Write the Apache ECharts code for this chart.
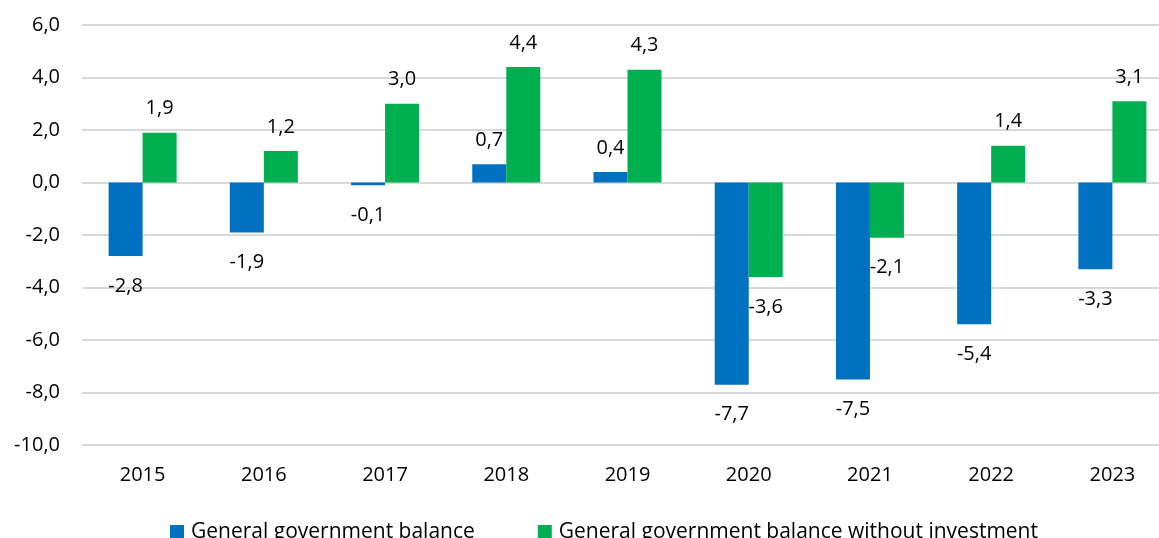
<!DOCTYPE html>
<html>
<head>
<meta charset="utf-8">
<script src="https://cdn.jsdelivr.net/npm/echarts@6/dist/echarts.min.js"></script>
<style>
  html, body { margin: 0; padding: 0; background: #fff; overflow: hidden; }
  /* plot runs a little past the right edge in the original, so the canvas is wider than the window */
  #chart { width: 1190px; height: 538px; }
</style>
</head>
<body>
<div id="chart"></div>
<script>
const years = ['2015', '2016', '2017', '2018', '2019', '2020', '2021', '2022', '2023']
const balance = [-2.8, -1.9, -0.1, 0.7, 0.4, -7.7, -7.5, -5.4, -3.3]
const balanceNoInvest = [1.9, 1.2, 3.0, 4.4, 4.3, -3.6, -2.1, 1.4, 3.1]
const seriesNames = ['General government balance', 'General government balance without investment']

const font = 'Open Sans'
const fmt = v => v.toFixed(1).replace('.', ',')

// label above positive bars, below negative ones
const withLabels = arr => arr.map(v => ({
  value: v,
  label: v < 0 ? { position: 'bottom', distance: 20 } : { position: 'top', distance: 14 }
}))

const chart = echarts.init(document.getElementById('chart'))

chart.setOption({
  animation: false,
  grid: {
    left: 82,
    top: 25,
    width: 1091,
    height: 420
  },
  legend: {
    data: seriesNames,
    left: 165,
    top: 517,
    itemWidth: 14,
    itemHeight: 15,
    itemGap: 63,
    icon: 'rect',
    textStyle: { fontFamily: font, fontSize: 21, color: '#000', padding: [0, 0, 0, 2] }
  },
  xAxis: {
    type: 'category',
    data: years,
    axisLine: { show: false },
    axisTick: { show: false },
    axisLabel: { color: '#000', fontFamily: font, fontSize: 20, margin: 20 }
  },
  yAxis: {
    type: 'value',
    min: -10,
    max: 6,
    interval: 2,
    axisLine: { show: false },
    axisTick: { show: false },
    axisLabel: {
      color: '#000',
      fontFamily: font,
      fontSize: 20,
      margin: 22,
      formatter: v => fmt(v)
    },
    splitLine: { lineStyle: { color: '#d9d9d9', width: 2 } }
  },
  series: [
    {
      name: seriesNames[0],
      type: 'bar',
      data: withLabels(balance),
      barWidth: 34,
      barGap: '0%',
      itemStyle: { color: '#0070c0' },
      label: {
        show: true,
        color: '#000',
        fontFamily: font,
        fontSize: 20,
        formatter: p => fmt(p.value)
      }
    },
    {
      name: seriesNames[1],
      type: 'bar',
      data: withLabels(balanceNoInvest),
      barWidth: 34,
      barGap: '0%',
      itemStyle: { color: '#00b050' },
      label: {
        show: true,
        color: '#000',
        fontFamily: font,
        fontSize: 20,
        formatter: p => fmt(p.value)
      }
    }
  ]
})
</script>
</body>
</html>
